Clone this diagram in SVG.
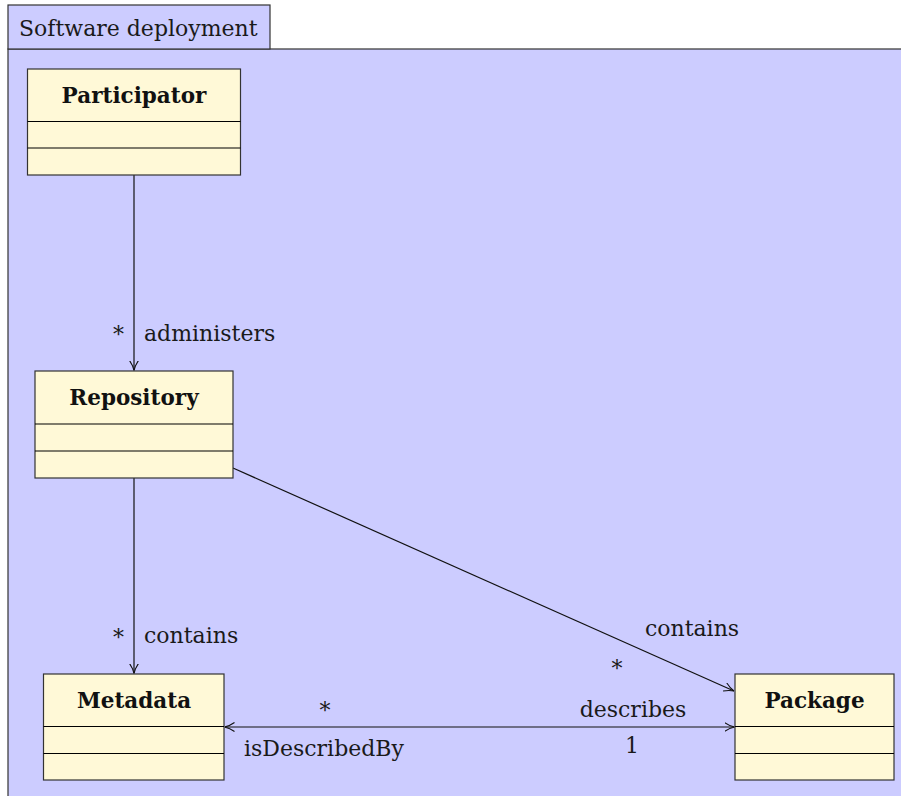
<svg xmlns="http://www.w3.org/2000/svg" width="901" height="796" viewBox="0 0 901 796">
<style>
.frame{fill:#ccccff;stroke:#333;stroke-width:1.2}
.box{fill:#fff9d7;stroke:#333;stroke-width:1.2}
.div{stroke:#000;stroke-width:1.2}
.t{font-family:"DejaVu Serif","Liberation Serif",serif;font-size:22px;fill:#1a1a1a}
.b{font-family:"DejaVu Serif","Liberation Serif",serif;font-size:21.5px;font-weight:bold;fill:#111;text-anchor:middle}
.c{fill:none;stroke:#111;stroke-width:1.2}
</style>
<defs>
<marker id="arr" viewBox="0 0 10 10" refX="10" refY="5" markerWidth="10" markerHeight="10" markerUnits="userSpaceOnUse" orient="auto-start-reverse">
<path d="M0,0.5 Q5,4 10,5 Q5,6 0,9.5" fill="none" stroke="#111" stroke-width="1.1"/>
</marker>
</defs>
<g id="frame">
<rect class="frame" x="8" y="49" width="900" height="760"/>
<rect class="frame" x="8" y="5" width="262" height="44"/>
<text class="t" x="19" y="36">Software deployment</text>
</g>
<g id="connectors">
<line class="c" x1="134" y1="175" x2="134" y2="370.5" marker-end="url(#arr)"/>
<line class="c" x1="134" y1="478" x2="134" y2="673.5" marker-end="url(#arr)"/>
<line class="c" x1="233" y1="468" x2="734" y2="691" marker-end="url(#arr)"/>
<line class="c" x1="224.5" y1="727" x2="734.5" y2="727" marker-start="url(#arr)" marker-end="url(#arr)"/>
<text class="t" x="124" y="342" text-anchor="end">*</text>
<text class="t" x="144" y="341">administers</text>
<text class="t" x="124" y="645" text-anchor="end">*</text>
<text class="t" x="144" y="643">contains</text>
<text class="t" x="692" y="636" text-anchor="middle">contains</text>
<text class="t" x="617" y="676" text-anchor="middle">*</text>
<text class="t" x="325" y="718" text-anchor="middle">*</text>
<text class="t" x="633" y="717" text-anchor="middle">describes</text>
<text class="t" x="244" y="756">isDescribedBy</text>
<text class="t" x="632" y="753" text-anchor="middle">1</text>
</g>
<g id="participator">
<rect class="box" x="27.5" y="69" width="213" height="106"/>
<line class="div" x1="27.5" y1="121.5" x2="240.5" y2="121.5"/>
<line class="div" x1="27.5" y1="148" x2="240.5" y2="148"/>
<text class="b" x="134" y="103">Participator</text>
</g>
<g id="repository">
<rect class="box" x="35" y="371" width="198" height="107"/>
<line class="div" x1="35" y1="424" x2="233" y2="424"/>
<line class="div" x1="35" y1="451" x2="233" y2="451"/>
<text class="b" x="134" y="405">Repository</text>
</g>
<g id="metadata">
<rect class="box" x="43.5" y="674" width="180.5" height="106"/>
<line class="div" x1="43.5" y1="726.5" x2="224" y2="726.5"/>
<line class="div" x1="43.5" y1="753.5" x2="224" y2="753.5"/>
<text class="b" x="134" y="708">Metadata</text>
</g>
<g id="package">
<rect class="box" x="735" y="674" width="159" height="106"/>
<line class="div" x1="735" y1="726.5" x2="894" y2="726.5"/>
<line class="div" x1="735" y1="753.5" x2="894" y2="753.5"/>
<text class="b" x="814.5" y="708">Package</text>
</g>
</svg>
